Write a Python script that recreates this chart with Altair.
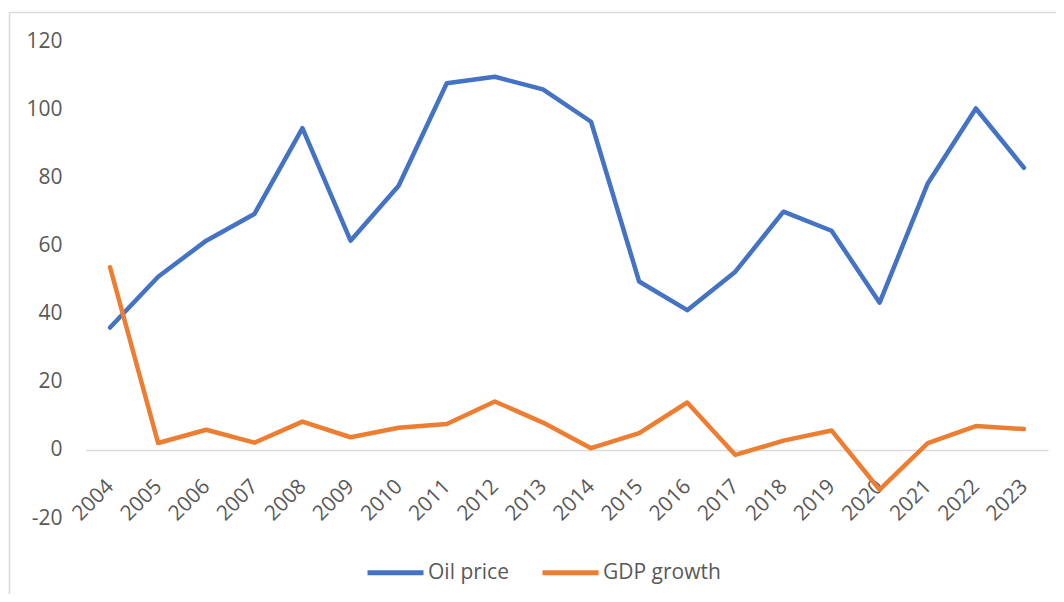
import altair as alt
import pandas as pd

years = [str(y) for y in range(2004, 2024)]
oil_price = [35.9, 50.8, 61.4, 69.2, 94.4, 61.4, 77.5, 107.6, 109.5, 105.8,
             96.3, 49.4, 41.0, 52.3, 69.9, 64.3, 43.2, 78.2, 100.2, 82.8]
gdp_growth = [53.6, 2.0, 5.9, 2.1, 8.3, 3.7, 6.5, 7.6, 14.2, 8.0,
              0.5, 4.9, 13.9, -1.5, 2.7, 5.7, -11.7, 2.0, 7.0, 6.1]
series_names = ["Oil price", "GDP growth"]
series_colors = ["#4472C4", "#ED7D31"]
y_ticks = [-20, 0, 20, 40, 60, 80, 100, 120]

rows = []
for name, vals in zip(series_names, [oil_price, gdp_growth]):
    for yr, v in zip(years, vals):
        rows.append({"year": yr, "series": name, "value": v})
df = pd.DataFrame(rows)

W, H = 962, 477
PAD_L, PAD_T, PAD_R, PAD_B = 78, 33, 8, 76
FONT = "Open Sans"
TXT = "#595959"
zero_offset = -round(H * 20 / 140)

frame = alt.Chart(pd.DataFrame({"a": [0]})).mark_rect(
    fillOpacity=0, stroke="#D9D9D9", strokeWidth=1.5
).encode(
    x=alt.value(-76.5), x2=alt.value(W + 200),
    y=alt.value(-28.5), y2=alt.value(H + 300)
)

lines = alt.Chart(df).mark_line(
    strokeWidth=4.5, strokeCap="round", strokeJoin="round"
).encode(
    x=alt.X("year:O", sort=years,
            scale=alt.Scale(type="point", padding=0.5),
            axis=alt.Axis(title=None, labelAngle=315, labelAlign="right",
                          labelBaseline="middle", labelPadding=33,
                          ticks=False, domainColor="#D9D9D9", domainWidth=1.5,
                          offset=zero_offset, labelFont=FONT, labelFontSize=21,
                          labelColor=TXT, labelOverlap=False)),
    y=alt.Y("value:Q", scale=alt.Scale(domain=[-20, 120], nice=False, zero=False),
            axis=alt.Axis(title=None, values=y_ticks, grid=False, domain=False,
                          ticks=False, labelPadding=24, labelFont=FONT,
                          labelExpr="'' + datum.value",
                          labelFontSize=21, labelColor=TXT)),
    color=alt.Color("series:N",
                    scale=alt.Scale(domain=series_names, range=series_colors),
                    sort=series_names,
                    legend=alt.Legend(title=None, orient="none", direction="horizontal",
                                      legendX=279, legendY=H + 24,
                                      symbolType="stroke", symbolSize=3136,
                                      symbolStrokeWidth=5, labelOffset=2,
                                      columnPadding=23, labelFont=FONT,
                                      labelFontSize=21, labelColor=TXT)),
    order=alt.Order("year:O")
)

chart = alt.layer(frame, lines).properties(
    width=W, height=H,
    autosize=alt.AutoSizeParams(type="none"),
    padding={"left": PAD_L, "top": PAD_T, "right": PAD_R, "bottom": PAD_B},
    background="white"
).configure_view(stroke=None)

chart.save("out.html", embed_options={"renderer": "svg", "actions": False})
